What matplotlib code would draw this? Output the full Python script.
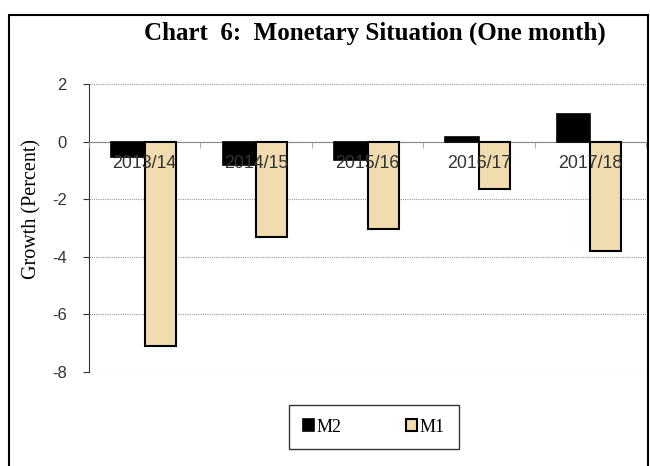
import matplotlib.pyplot as plt
import numpy as np
from matplotlib.patches import Rectangle

years = ['2013/14', '2014/15', '2015/16', '2016/17', '2017/18']
m2 = [-0.55, -0.8, -0.63, 0.17, 0.95]
m1 = [-7.1, -3.3, -3.05, -1.63, -3.8]

plt.rcParams['axes.unicode_minus'] = False

fig = plt.figure(figsize=(6.5, 4.66), dpi=100)
ax = fig.add_axes([89 / 650, 1 - 372 / 466, 557 / 650, 288 / 466])

# outer frame of the chart
fig.patches.append(Rectangle((9 / 650, -0.05), 639 / 650, 1.05 - 15 / 466,
                             transform=fig.transFigure, fill=False,
                             edgecolor='black', linewidth=1.5))

x = np.arange(len(years)) + 0.5
w = 0.3
ax.bar(x - w / 2, m2, w, color='black', edgecolor='black', linewidth=1.2, label='M2', zorder=3)
ax.bar(x + w / 2 - 0.01, m1, w - 0.02, color='#F0DCAE', edgecolor='black', linewidth=1.5,
       label='M1', zorder=3)

ax.set_xlim(0, len(years))
ax.set_ylim(-8, 2)
ax.set_yticks([2, 0, -2, -4, -6, -8])
ax.yaxis.grid(True, linestyle=(0, (1, 1)), color='#999999', linewidth=0.8)
ax.set_axisbelow(True)
# category labels sit on top of the bars
ax.xaxis.set_zorder(4)

for s in ['top', 'right']:
    ax.spines[s].set_visible(False)
ax.spines['left'].set_linestyle((0, (1, 1)))
ax.spines['left'].set_color('#333333')
ax.spines['bottom'].set_position(('data', 0))
ax.spines['bottom'].set_linestyle((0, (1, 1)))
ax.spines['bottom'].set_color('#888888')

ax.set_xticks(x)
ax.set_xticklabels(years, fontfamily='Liberation Sans', fontsize=12.8, color='#333333')
ax.tick_params(axis='x', which='major', length=0, pad=10)
ax.set_xticks(np.arange(len(years) + 1), minor=True)
ax.tick_params(axis='x', which='minor', length=4, direction='out', color='#999999')
ax.tick_params(axis='y', length=4, color='#333333', labelsize=12, labelcolor='#333333', pad=12)
for t in ax.get_yticklabels():
    t.set_fontfamily('Liberation Sans')

ax.set_ylabel('Growth (Percent)', fontfamily='Liberation Serif', fontsize=14.5)
ax.yaxis.set_label_coords((41 - 89) / 557, (372 - 209) / 288)

fig.text(375 / 650, 1 - 33 / 466, 'Chart  6:  Monetary Situation (One month)',
         fontfamily='Liberation Serif', fontweight='bold', fontsize=18,
         ha='center', va='center')

leg = fig.legend(loc='center', bbox_to_anchor=(374 / 650, 1 - 427 / 466), ncol=2,
                 prop={'family': 'Liberation Serif', 'size': 13},
                 frameon=True, fancybox=False, edgecolor='black',
                 handlelength=0.6, handleheight=0.6, handletextpad=0.15,
                 columnspacing=3.6, borderpad=0.75, borderaxespad=0)
leg.get_frame().set_linewidth(1.0)
leg.get_frame().set_boxstyle('square', pad=0)

fig.savefig('out.png', dpi=100)
